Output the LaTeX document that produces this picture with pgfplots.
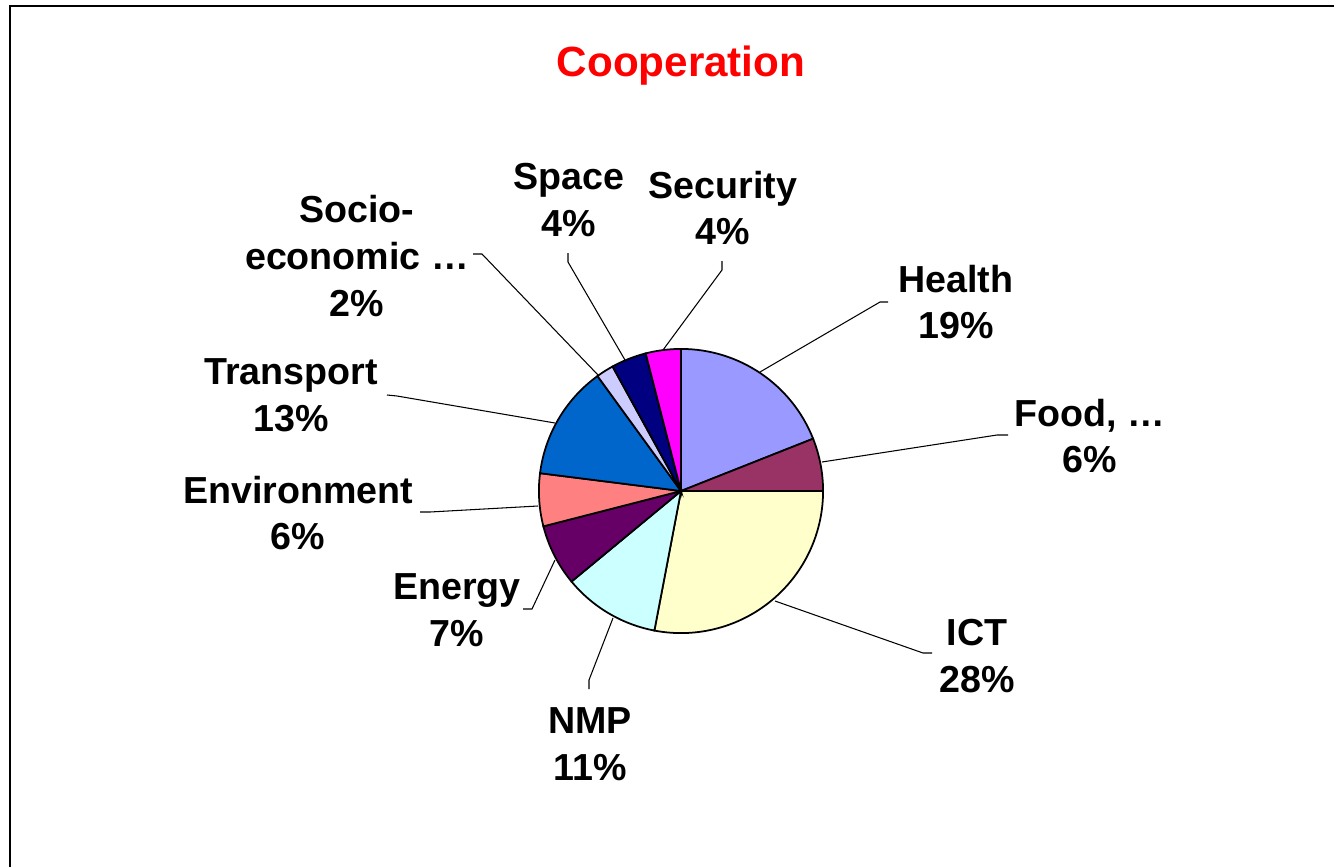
\documentclass[border=0pt]{standalone}
\usepackage{fontspec}
\setmainfont{Liberation Sans}
\usepackage{pgfplots}
\usepackage{pgfplotstable}
\pgfplotsset{compat=1.18}
\definecolor{pie0}{HTML}{9999FF}
\definecolor{pie1}{HTML}{993366}
\definecolor{pie2}{HTML}{FFFFCC}
\definecolor{pie3}{HTML}{CCFFFF}
\definecolor{pie4}{HTML}{660066}
\definecolor{pie5}{HTML}{FF8080}
\definecolor{pie6}{HTML}{0066CC}
\definecolor{pie7}{HTML}{CCCCFF}
\definecolor{pie8}{HTML}{000080}
\definecolor{pie9}{HTML}{FF00FF}
\pgfplotstableread{
name value
Health 19
Food 6
ICT 28
NMP 11
Energy 7
Environment 6
Transport 13
Socio-economic 2
Space 4
Security 4
}\piedata
\begin{document}
\begin{tikzpicture}[
  lbl/.style={font=\fontsize{10.7}{13.3}\selectfont\bfseries, align=center, inner sep=0pt},
  ld/.style={line width=0.3pt, black},
]
\begin{axis}[
  x=0.01cm, y=0.01cm, y dir=reverse,
  xmin=0, xmax=1334, ymin=0, ymax=867,
  axis lines=none, ticks=none, clip=false,
  scale only axis,
]
\xdef\startang{90}
\pgfplotsforeachungrouped \i in {0,...,9} {
  \pgfplotstablegetelem{\i}{value}\of\piedata
  \pgfmathsetmacro\endang{\startang - 3.6*\pgfplotsretval}
  \edef\temp{\noexpand\filldraw[fill=pie\i, draw=black, line width=0.5pt]
    (axis cs:681,491) -- ++(\startang:1.42cm)
    arc[start angle=\startang, end angle=\endang, radius=1.42cm] -- cycle;}
  \temp
  \xdef\startang{\endang}
}
% frame
\draw[line width=0.6pt] (axis cs:10,867) -- (axis cs:10,6) -- (axis cs:1334,6);
% title
\node[font=\fontsize{12}{14}\selectfont\bfseries, text=red, inner sep=0pt] at (axis cs:681,66) {Cooperation};
% leader lines
\draw[ld] (axis cs:568,253) -- (axis cs:568,262) -- (axis cs:625,360);
\draw[ld] (axis cs:722,261) -- (axis cs:722,270) -- (axis cs:663,350);
\draw[ld] (axis cs:473,254) -- (axis cs:482,254) -- (axis cs:598,375);
\draw[ld] (axis cs:888,302) -- (axis cs:880,302) -- (axis cs:760,372);
\draw[ld] (axis cs:1008,435) -- (axis cs:997,435) -- (axis cs:822,462);
\draw[ld] (axis cs:387,395) -- (axis cs:397,396) -- (axis cs:555,423);
\draw[ld] (axis cs:420,512) -- (axis cs:430,512) -- (axis cs:538,506);
\draw[ld] (axis cs:523,609) -- (axis cs:532,609) -- (axis cs:555,560);
\draw[ld] (axis cs:589,689) -- (axis cs:589,680) -- (axis cs:613,618);
\draw[ld] (axis cs:932,653) -- (axis cs:923,653) -- (axis cs:775,601);
% labels
\node[lbl] at (axis cs:569,200) {Space\\4\%};
\node[lbl] at (axis cs:723,208) {Security\\4\%};
\node[lbl] at (axis cs:357,256) {Socio-\\economic \dots\\2\%};
\node[lbl] at (axis cs:956,302) {Health\\19\%};
\node[lbl] at (axis cs:291,395) {Transport\\13\%};
\node[lbl] at (axis cs:1090,436) {Food, \dots\\6\%};
\node[lbl] at (axis cs:298,513) {Environment\\6\%};
\node[lbl] at (axis cs:457,610) {Energy\\7\%};
\node[lbl] at (axis cs:977,656) {ICT\\28\%};
\node[lbl] at (axis cs:590,744) {NMP\\11\%};
\end{axis}
\pgfresetboundingbox
\useasboundingbox (current axis.south west) rectangle (current axis.north east);
\end{tikzpicture}
\end{document}
